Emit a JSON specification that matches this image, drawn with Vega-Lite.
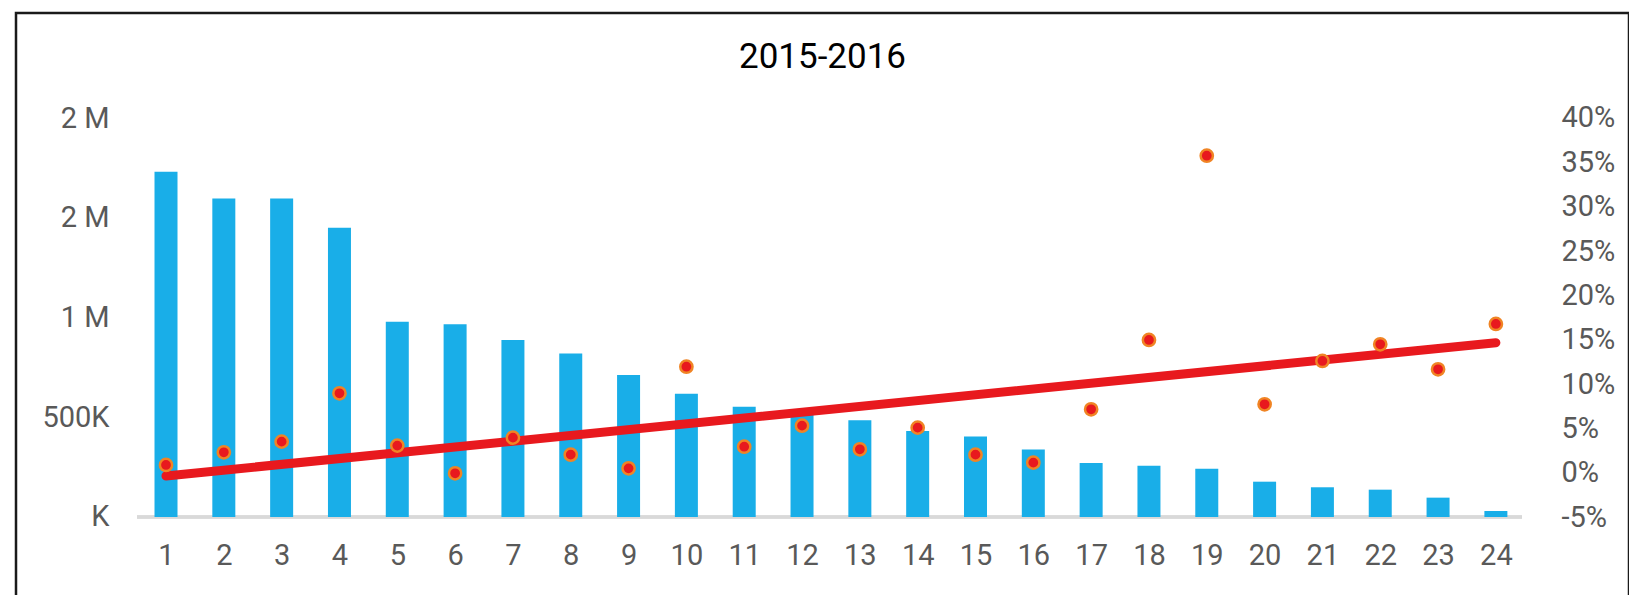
{
  "$schema": "https://vega.github.io/schema/vega-lite/v6.json",
  "autosize": {"type": "none"},
  "padding": {"left": 16, "top": 13, "right": 0, "bottom": 0},
  "width": 1613,
  "height": 590,
  "background": "white",
  "config": {
    "view": {"stroke": "#1a1a1a", "strokeWidth": 2.5},
    "font": "Roboto"
  },
  "title": {
    "text": "2015-2016",
    "fontSize": 35,
    "font": "Roboto",
    "fontWeight": "normal",
    "color": "#000000",
    "anchor": "middle",
    "frame": "group",
    "offset": -62
  },
  "datasets": {
    "main": [
      {"period": 1, "value": 1731000, "pct": 0.0087},
      {"period": 2, "value": 1597000, "pct": 0.023},
      {"period": 3, "value": 1597000, "pct": 0.035},
      {"period": 4, "value": 1450000, "pct": 0.0895},
      {"period": 5, "value": 979000, "pct": 0.0305},
      {"period": 6, "value": 966000, "pct": -0.0007},
      {"period": 7, "value": 887000, "pct": 0.0395},
      {"period": 8, "value": 820000, "pct": 0.0203},
      {"period": 9, "value": 712000, "pct": 0.0049},
      {"period": 10, "value": 618000, "pct": 0.1195},
      {"period": 11, "value": 553000, "pct": 0.0293},
      {"period": 12, "value": 515000, "pct": 0.053},
      {"period": 13, "value": 485000, "pct": 0.0264},
      {"period": 14, "value": 431000, "pct": 0.0508},
      {"period": 15, "value": 404000, "pct": 0.0203},
      {"period": 16, "value": 338000, "pct": 0.0113},
      {"period": 17, "value": 271000, "pct": 0.0715},
      {"period": 18, "value": 257000, "pct": 0.1497},
      {"period": 19, "value": 242000, "pct": 0.3575},
      {"period": 20, "value": 177000, "pct": 0.0771},
      {"period": 21, "value": 149000, "pct": 0.126},
      {"period": 22, "value": 137000, "pct": 0.1448},
      {"period": 23, "value": 97000, "pct": 0.1166},
      {"period": 24, "value": 30000, "pct": 0.1677}
    ],
    "trend": [
      {"period": 1, "pct": -0.0037},
      {"period": 24, "pct": 0.1466}
    ]
  },
  "layer": [
    {
      "data": {"name": "main"},
      "layer": [
        {
          "mark": {"type": "rule", "color": "#d9d9d9", "strokeWidth": 2.5},
          "encoding": {
            "x": {"datum": 0.5, "type": "quantitative"},
            "x2": {"datum": 24.45},
            "y": {"datum": 0, "type": "quantitative"}
          }
        },
        {
          "mark": {"type": "bar", "color": "#19aee8", "width": 23},
          "encoding": {
            "x": {
              "field": "period",
              "type": "quantitative",
              "scale": {"domain": [-1.5943, 26.3023], "nice": false, "zero": false, "padding": 0},
              "axis": {
                "values": [1,2,3,4,5,6,7,8,9,10,11,12,13,14,15,16,17,18,19,20,21,22,23,24],
                "format": "d",
                "orient": "bottom",
                "offset": -48,
                "domain": false,
                "ticks": false,
                "tickSize": 0,
                "grid": false,
                "labelPadding": 0,
                "labelBaseline": "middle",
                "labelFontSize": 29,
                "labelFont": "Roboto",
                "labelColor": "#595959",
                "labelFlush": false,
                "labelOverlap": false,
                "title": null
              }
            },
            "y": {
              "field": "value",
              "type": "quantitative",
              "scale": {"domain": [-431078, 2526316], "nice": false, "zero": false},
              "axis": {
                "values": [0, 500000, 1000000, 1500000, 2000000],
                "labelExpr": "datum.value == 0 ? 'K' : datum.value == 500000 ? '500K' : datum.value == 1000000 ? '1 M' : '2 M'",
                "orient": "left",
                "offset": -93,
                "domain": false,
                "ticks": false,
                "tickSize": 0,
                "grid": false,
                "labelPadding": 0,
                "labelFontSize": 29,
                "labelFont": "Roboto",
                "labelColor": "#595959",
                "labelFlush": false,
                "labelOverlap": false,
                "title": null
              }
            },
            "y2": {"datum": 0}
          }
        }
      ]
    },
    {
      "layer": [
        {
          "data": {"name": "trend"},
          "mark": {"type": "line", "color": "#e8191e", "strokeWidth": 9, "strokeCap": "round"},
          "encoding": {
            "x": {"field": "period", "type": "quantitative"},
            "y": {
              "field": "pct",
              "type": "quantitative",
              "scale": {"domain": [-0.14699, 0.51842], "nice": false, "zero": false},
              "axis": {
                "values": [-0.05, 0, 0.05, 0.1, 0.15, 0.2, 0.25, 0.3, 0.35, 0.4],
                "labelExpr": "round(datum.value * 100) + '%'",
                "orient": "right",
                "offset": -68,
                "domain": false,
                "ticks": false,
                "tickSize": 0,
                "grid": false,
                "labelPadding": 0,
                "labelAlign": "left",
                "labelFontSize": 29,
                "labelFont": "Roboto",
                "labelColor": "#595959",
                "labelFlush": false,
                "labelOverlap": false,
                "title": null
              }
            }
          }
        },
        {
          "data": {"name": "main"},
          "mark": {"type": "circle", "fill": "#e8191e", "stroke": "#f08424", "strokeWidth": 2.5, "size": 150, "opacity": 1},
          "encoding": {
            "x": {"field": "period", "type": "quantitative"},
            "y": {"field": "pct", "type": "quantitative"}
          }
        }
      ]
    }
  ],
  "resolve": {"scale": {"y": "independent"}, "axis": {"y": "independent"}}
}
